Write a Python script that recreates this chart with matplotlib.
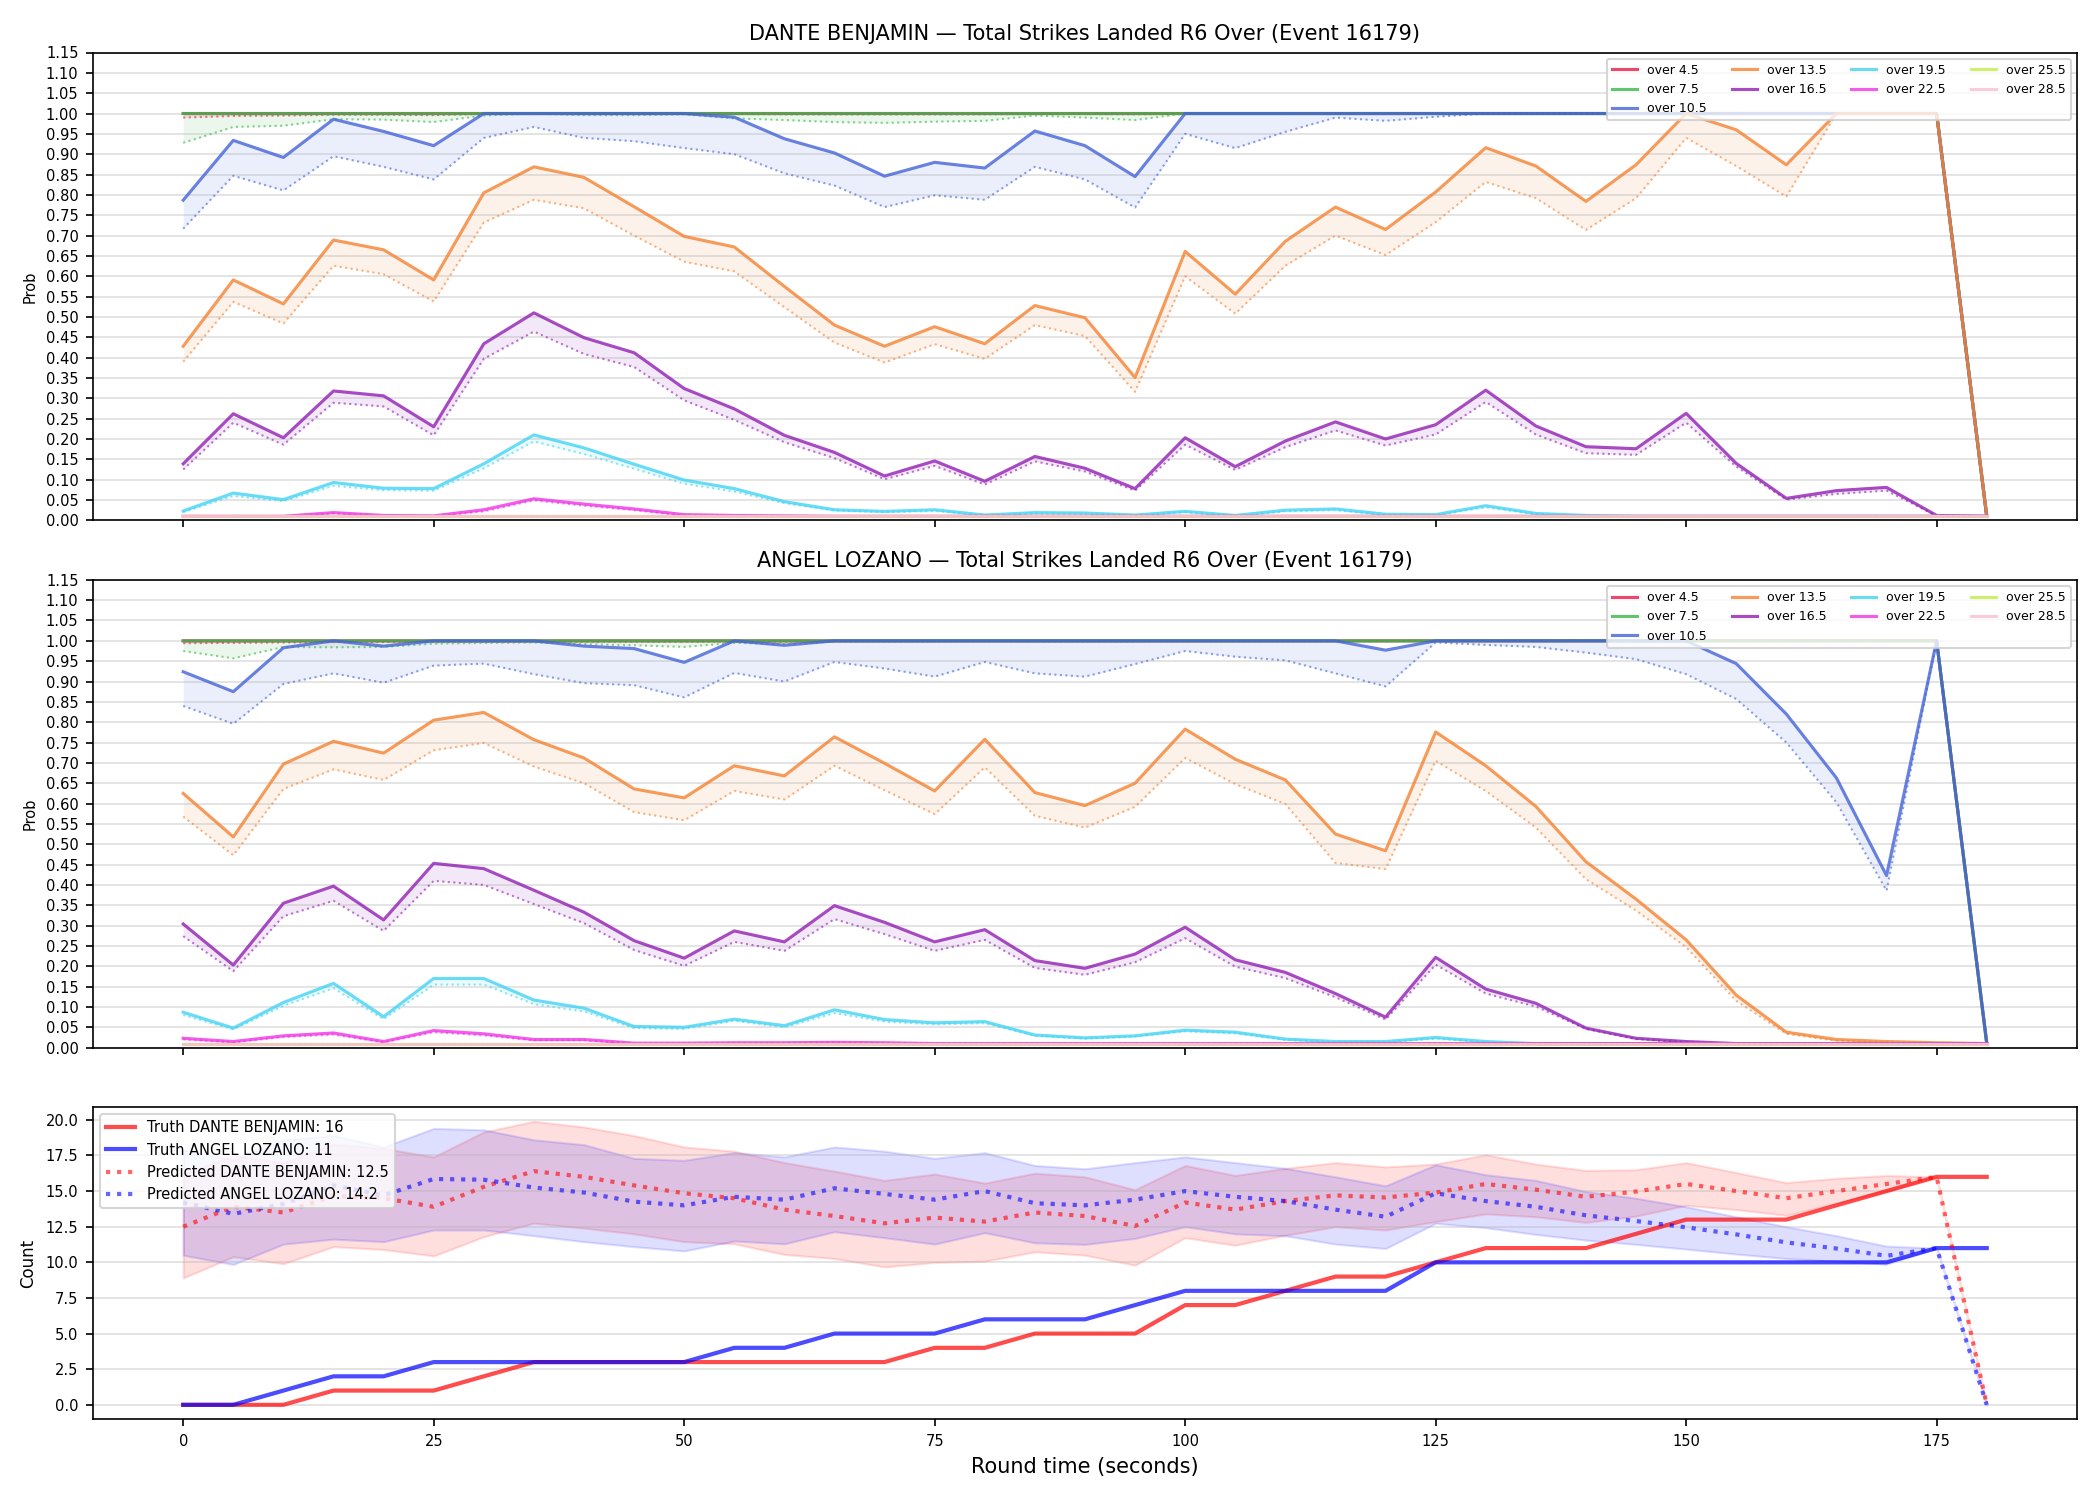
import matplotlib
matplotlib.use("Agg")
import matplotlib.pyplot as plt
import numpy as np

times = list(range(0, 181, 5))
thresholds = ["4.5", "7.5", "10.5", "13.5", "16.5", "19.5", "22.5", "25.5", "28.5"]
colors = ["#e6194b", "#3cb44b", "#4363d8", "#f58231", "#911eb4",
          "#42d4f4", "#f032e6", "#bfef45", "#fabed4"]

ONES = [1.0] * 36 + [0.01]
FLOOR = [0.01] * 37

# ---- DANTE BENJAMIN: solid = market line, dotted = lower line ----
d45_s = ONES
d45_d = [0.990, 0.994, 0.995, 0.997, 0.997, 0.996, 0.999, 0.999, 0.999, 0.999, 0.999, 0.999,
         0.998, 0.998, 0.998, 0.998, 0.998, 0.999, 0.999, 0.998, 1.0, 1.0, 1.0, 1.0, 1.0, 1.0,
         1.0, 1.0, 1.0, 1.0, 1.0, 1.0, 1.0, 1.0, 1.0, 1.0, 0.01]
d75_s = ONES
d75_d = [0.928, 0.967, 0.970, 0.986, 0.985, 0.979, 0.995, 1.0, 0.996, 0.996, 0.998, 0.988,
         0.984, 0.979, 0.977, 0.980, 0.982, 0.995, 0.990, 0.984, 1.0, 1.0, 1.0, 1.0, 1.0, 1.0,
         1.0, 1.0, 1.0, 1.0, 1.0, 1.0, 1.0, 1.0, 1.0, 1.0, 0.01]
d105_s = [0.787, 0.934, 0.892, 0.986, 0.956, 0.921, 1.0, 1.0, 1.0, 1.0, 1.0, 0.991, 0.938,
          0.903, 0.846, 0.880, 0.866, 0.957, 0.921, 0.845, 1.0, 1.0, 1.0, 1.0, 1.0, 1.0, 1.0,
          1.0, 1.0, 1.0, 1.0, 1.0, 1.0, 1.0, 1.0, 1.0, 0.01]
d105_d = [0.717, 0.847, 0.811, 0.895, 0.869, 0.838, 0.940, 0.967, 0.940, 0.932, 0.915, 0.900,
          0.853, 0.823, 0.770, 0.799, 0.788, 0.869, 0.838, 0.769, 0.950, 0.915, 0.955, 0.990,
          0.982, 0.992, 1.0, 1.0, 1.0, 1.0, 1.0, 1.0, 1.0, 1.0, 1.0, 1.0, 0.01]
d135_s = [0.428, 0.591, 0.532, 0.689, 0.665, 0.591, 0.805, 0.869, 0.843, 0.771, 0.698, 0.672,
          0.575, 0.480, 0.428, 0.476, 0.434, 0.528, 0.498, 0.351, 0.661, 0.556, 0.686, 0.770,
          0.715, 0.807, 0.916, 0.871, 0.784, 0.874, 1.0, 0.960, 0.874, 1.0, 1.0, 1.0, 0.011]
d135_d = [0.390, 0.537, 0.484, 0.626, 0.605, 0.538, 0.732, 0.788, 0.767, 0.700, 0.636, 0.612,
          0.524, 0.437, 0.388, 0.433, 0.397, 0.480, 0.453, 0.316, 0.600, 0.508, 0.626, 0.700,
          0.652, 0.733, 0.832, 0.792, 0.714, 0.792, 0.940, 0.871, 0.796, 1.0, 1.0, 1.0, 0.01]
d165_s = [0.139, 0.262, 0.203, 0.318, 0.306, 0.230, 0.434, 0.510, 0.449, 0.412, 0.324, 0.274,
          0.209, 0.167, 0.109, 0.146, 0.096, 0.157, 0.128, 0.078, 0.203, 0.132, 0.195, 0.242,
          0.200, 0.235, 0.320, 0.232, 0.181, 0.176, 0.263, 0.140, 0.054, 0.073, 0.081, 0.012, 0.01]
d165_d = [0.125, 0.240, 0.186, 0.289, 0.280, 0.209, 0.397, 0.464, 0.409, 0.377, 0.295, 0.247,
          0.192, 0.153, 0.101, 0.134, 0.088, 0.145, 0.120, 0.073, 0.186, 0.124, 0.180, 0.221,
          0.184, 0.211, 0.291, 0.211, 0.165, 0.161, 0.240, 0.132, 0.051, 0.065, 0.073, 0.011, 0.01]
d195_s = [0.023, 0.067, 0.051, 0.093, 0.079, 0.078, 0.139, 0.210, 0.178, 0.138, 0.099, 0.078,
          0.046, 0.026, 0.022, 0.026, 0.013, 0.019, 0.018, 0.013, 0.022, 0.012, 0.025, 0.028,
          0.015, 0.014, 0.036, 0.017, 0.012, 0.01, 0.01, 0.01, 0.01, 0.01, 0.01, 0.01, 0.01]
d195_d = [0.020, 0.060, 0.047, 0.085, 0.074, 0.073, 0.128, 0.194, 0.163, 0.127, 0.090, 0.071,
          0.042, 0.024, 0.020, 0.023, 0.012, 0.017, 0.016, 0.012, 0.020, 0.011, 0.022, 0.025,
          0.013, 0.013, 0.032, 0.015, 0.011, 0.01, 0.01, 0.01, 0.01, 0.01, 0.01, 0.01, 0.01]
d225_s = [0.01, 0.01, 0.01, 0.019, 0.012, 0.011, 0.026, 0.053, 0.040, 0.028, 0.014, 0.012,
          0.011, 0.01, 0.01, 0.01, 0.01, 0.01, 0.01, 0.01, 0.01, 0.01, 0.01, 0.01, 0.01, 0.01,
          0.01, 0.01, 0.01, 0.01, 0.01, 0.01, 0.01, 0.01, 0.01, 0.01, 0.01]
d225_d = [0.01, 0.01, 0.01, 0.017, 0.011, 0.01, 0.022, 0.049, 0.036, 0.025, 0.012, 0.011,
          0.01, 0.01, 0.01, 0.01, 0.01, 0.01, 0.01, 0.01, 0.01, 0.01, 0.01, 0.01, 0.01, 0.01,
          0.01, 0.01, 0.01, 0.01, 0.01, 0.01, 0.01, 0.01, 0.01, 0.01, 0.01]

# ---- ANGEL LOZANO ----
a45_s = ONES
a45_d = [0.994, 0.995, 0.996, 0.997, 0.997, 0.998, 0.998, 0.998, 0.998, 0.998, 0.998, 0.998,
         0.998, 0.999, 0.999, 0.999, 0.999, 0.999, 0.999, 0.999, 0.999, 0.999, 0.999, 0.999,
         0.999, 1.0, 1.0, 1.0, 1.0, 1.0, 1.0, 1.0, 1.0, 1.0, 1.0, 1.0, 0.01]
a75_s = ONES
a75_d = [0.975, 0.957, 0.985, 0.984, 0.985, 0.993, 0.995, 0.996, 0.992, 0.989, 0.985, 0.995,
         0.992, 0.998, 0.998, 0.998, 0.999, 0.998, 0.998, 0.998, 0.999, 0.999, 0.999, 0.999,
         0.998, 1.0, 1.0, 1.0, 1.0, 1.0, 1.0, 1.0, 1.0, 1.0, 1.0, 1.0, 0.01]
a105_s = [0.924, 0.875, 0.983, 1.0, 0.987, 1.0, 1.0, 1.0, 0.987, 0.981, 0.947, 1.0, 0.989,
          1.0, 1.0, 1.0, 1.0, 1.0, 1.0, 1.0, 1.0, 1.0, 1.0, 1.0, 0.977, 1.0, 1.0, 1.0, 1.0,
          1.0, 1.0, 0.944, 0.820, 0.663, 0.423, 1.0, 0.013]
a105_d = [0.840, 0.796, 0.894, 0.920, 0.897, 0.939, 0.944, 0.918, 0.896, 0.891, 0.861, 0.921,
          0.900, 0.948, 0.932, 0.912, 0.948, 0.920, 0.912, 0.943, 0.975, 0.961, 0.952, 0.920,
          0.888, 0.996, 0.990, 0.985, 0.971, 0.955, 0.918, 0.857, 0.750, 0.603, 0.386, 1.0, 0.01]
a135_s = [0.625, 0.518, 0.697, 0.753, 0.724, 0.805, 0.824, 0.757, 0.712, 0.636, 0.614, 0.693,
          0.668, 0.764, 0.699, 0.631, 0.758, 0.627, 0.595, 0.650, 0.783, 0.709, 0.658, 0.525,
          0.484, 0.776, 0.693, 0.593, 0.457, 0.365, 0.265, 0.129, 0.038, 0.020, 0.015, 0.012, 0.01]
a135_d = [0.568, 0.473, 0.636, 0.684, 0.658, 0.731, 0.749, 0.691, 0.650, 0.579, 0.559, 0.631,
          0.610, 0.693, 0.633, 0.574, 0.689, 0.570, 0.541, 0.592, 0.712, 0.648, 0.599, 0.454,
          0.439, 0.705, 0.631, 0.541, 0.414, 0.337, 0.247, 0.115, 0.034, 0.017, 0.013, 0.011, 0.01]
a165_s = [0.304, 0.203, 0.355, 0.397, 0.314, 0.453, 0.440, 0.387, 0.333, 0.263, 0.220, 0.287,
          0.260, 0.349, 0.308, 0.260, 0.290, 0.214, 0.195, 0.230, 0.296, 0.216, 0.185, 0.133,
          0.075, 0.222, 0.144, 0.109, 0.048, 0.023, 0.015, 0.01, 0.01, 0.01, 0.01, 0.01, 0.01]
a165_d = [0.274, 0.188, 0.323, 0.361, 0.287, 0.410, 0.400, 0.353, 0.306, 0.240, 0.201, 0.260,
          0.238, 0.316, 0.279, 0.238, 0.265, 0.196, 0.179, 0.210, 0.269, 0.199, 0.171, 0.124,
          0.069, 0.204, 0.133, 0.101, 0.046, 0.021, 0.013, 0.01, 0.01, 0.01, 0.01, 0.01, 0.01]
a195_s = [0.087, 0.048, 0.111, 0.158, 0.076, 0.170, 0.170, 0.117, 0.097, 0.052, 0.050, 0.070,
          0.054, 0.093, 0.069, 0.061, 0.064, 0.031, 0.024, 0.029, 0.043, 0.038, 0.021, 0.015,
          0.015, 0.025, 0.015, 0.01, 0.01, 0.01, 0.01, 0.01, 0.01, 0.01, 0.01, 0.01, 0.01]
a195_d = [0.080, 0.045, 0.103, 0.146, 0.070, 0.155, 0.155, 0.107, 0.089, 0.048, 0.046, 0.066,
          0.050, 0.085, 0.064, 0.057, 0.060, 0.029, 0.022, 0.027, 0.040, 0.035, 0.019, 0.013,
          0.013, 0.022, 0.013, 0.01, 0.01, 0.01, 0.01, 0.01, 0.01, 0.01, 0.01, 0.01, 0.01]
a225_s = [0.023, 0.015, 0.029, 0.036, 0.015, 0.042, 0.034, 0.020, 0.020, 0.011, 0.011, 0.012,
          0.012, 0.013, 0.012, 0.01, 0.01, 0.01, 0.01, 0.01, 0.01, 0.01, 0.01, 0.01, 0.01, 0.01,
          0.01, 0.01, 0.01, 0.01, 0.01, 0.01, 0.01, 0.01, 0.01, 0.01, 0.01]
a225_d = [0.020, 0.013, 0.026, 0.032, 0.013, 0.038, 0.030, 0.018, 0.018, 0.01, 0.01, 0.011,
          0.011, 0.012, 0.011, 0.01, 0.01, 0.01, 0.01, 0.01, 0.01, 0.01, 0.01, 0.01, 0.01, 0.01,
          0.01, 0.01, 0.01, 0.01, 0.01, 0.01, 0.01, 0.01, 0.01, 0.01, 0.01]

dante_lines = [(d45_s, d45_d), (d75_s, d75_d), (d105_s, d105_d), (d135_s, d135_d),
               (d165_s, d165_d), (d195_s, d195_d), (d225_s, d225_d), (FLOOR, FLOOR), (FLOOR, FLOOR)]
angel_lines = [(a45_s, a45_d), (a75_s, a75_d), (a105_s, a105_d), (a135_s, a135_d),
               (a165_s, a165_d), (a195_s, a195_d), (a225_s, a225_d), (FLOOR, FLOOR), (FLOOR, FLOOR)]

# ---- counts ----
truth_dante = [0, 0, 0, 1, 1, 1, 2, 3, 3, 3, 3, 3, 3, 3, 3, 4, 4, 5, 5, 5, 7, 7, 8, 9, 9,
               10, 11, 11, 11, 12, 13, 13, 13, 14, 15, 16, 16]
truth_angel = [0, 0, 1, 2, 2, 3, 3, 3, 3, 3, 3, 4, 4, 5, 5, 5, 6, 6, 6, 7, 8, 8, 8, 8, 8,
               10, 10, 10, 10, 10, 10, 10, 10, 10, 10, 11, 11]
pred_dante = [12.5, 13.9, 13.5, 14.67, 14.5, 13.9, 15.3, 16.4, 16.0, 15.4, 14.85, 14.5, 13.7,
              13.25, 12.74, 13.14, 12.86, 13.5, 13.25, 12.55, 14.2, 13.7, 14.3, 14.7, 14.55,
              14.9, 15.5, 15.1, 14.6, 14.97, 15.5, 15.0, 14.5, 15.0, 15.5, 16.0, 0.0]
pred_dante_lo = [8.9, 10.4, 9.9, 11.1, 10.9, 10.45, 11.8, 12.75, 12.4, 12.0, 11.45, 11.3, 10.55,
                 10.27, 9.68, 9.99, 10.08, 10.74, 10.5, 9.8, 11.73, 11.2, 11.9, 12.5, 12.27,
                 12.86, 13.4, 13.2, 12.8, 13.25, 14.0, 13.7, 13.3, 14.15, 15.0, 16.0, 0.0]
pred_dante_hi = [16.2, 17.5, 17.0, 18.3, 18.0, 17.4, 19.15, 19.9, 19.5, 18.9, 18.1, 17.8, 17.0,
                 16.4, 15.75, 16.2, 15.56, 16.26, 16.0, 15.1, 16.8, 16.1, 16.6, 17.0, 16.7,
                 16.9, 17.55, 16.9, 16.45, 16.5, 17.0, 16.3, 15.6, 15.9, 16.1, 16.0, 0.0]
pred_angel = [14.2, 13.4, 14.1, 15.4, 14.7, 15.85, 15.8, 15.25, 14.9, 14.26, 14.0, 14.6, 14.4,
              15.2, 14.8, 14.4, 15.0, 14.15, 14.0, 14.4, 15.0, 14.6, 14.3, 13.7, 13.2, 14.85,
              14.3, 13.9, 13.3, 12.9, 12.46, 11.96, 11.4, 10.97, 10.46, 11.0, 0.0]
pred_angel_lo = [10.5, 9.85, 11.28, 11.63, 11.45, 12.27, 12.27, 11.87, 11.45, 11.1, 10.8, 11.5,
                 11.3, 12.15, 11.73, 11.28, 12.08, 11.37, 11.26, 11.68, 12.5, 12.0, 11.87, 11.28,
                 10.97, 12.74, 12.43, 11.96, 11.56, 11.26, 10.93, 10.58, 10.27, 10.08, 9.87,
                 11.0, 0.0]
pred_angel_hi = [17.9, 17.2, 18.6, 18.9, 18.1, 19.4, 19.3, 18.6, 18.26, 17.3, 17.16, 17.7, 17.4,
                 18.1, 17.8, 17.3, 17.7, 16.8, 16.57, 17.0, 17.4, 17.0, 16.6, 16.0, 15.37, 16.85,
                 16.15, 15.75, 14.97, 14.5, 13.9, 13.2, 12.5, 11.87, 11.14, 11.0, 0.0]

fig, axes = plt.subplots(3, 1, figsize=(14, 10), dpi=150, sharex=True,
                         gridspec_kw={"height_ratios": [3, 3, 2]})
fig.subplots_adjust(left=0.0443, right=0.989, top=0.965, bottom=0.054, hspace=0.143)


def prob_panel(ax, name, lines):
    for th, col, (solid, dotted) in zip(thresholds, colors, lines):
        ax.plot(times, solid, color=col, lw=1.5, alpha=0.8, label=f"over {th}")
        ax.plot(times, dotted, color=col, lw=1.0, ls=":", alpha=0.6)
        ax.fill_between(times, dotted, solid, color=col, alpha=0.1, lw=0)
    ax.set_ylim(0, 1.15)
    ax.set_yticks(np.arange(0, 1.151, 0.05))
    ax.set_yticklabels([f"{v:.2f}" for v in np.arange(0, 1.151, 0.05)])
    ax.set_ylabel("Prob", fontsize=7)
    ax.set_title(f"{name} — Total Strikes Landed R6 Over (Event 16179)", fontsize=10)
    ax.grid(axis="y", alpha=0.4)
    ax.tick_params(labelsize=7)
    ax.legend(loc="upper right", ncol=4, fontsize=6)


prob_panel(axes[0], "DANTE BENJAMIN", dante_lines)
prob_panel(axes[1], "ANGEL LOZANO", angel_lines)

ax = axes[2]
ax.plot(times, truth_dante, color="red", lw=2, alpha=0.7, label="Truth DANTE BENJAMIN: 16")
ax.plot(times, truth_angel, color="blue", lw=2, alpha=0.7, label="Truth ANGEL LOZANO: 11")
ax.plot(times, pred_dante, color="red", lw=2, ls=":", alpha=0.6,
        label="Predicted DANTE BENJAMIN: 12.5")
ax.fill_between(times, pred_dante_lo, pred_dante_hi, color="red", alpha=0.13)
ax.plot(times, pred_angel, color="blue", lw=2, ls=":", alpha=0.6,
        label="Predicted ANGEL LOZANO: 14.2")
ax.fill_between(times, pred_angel_lo, pred_angel_hi, color="blue", alpha=0.13)
ax.set_ylabel("Count", fontsize=8)
ax.set_xlabel("Round time (seconds)", fontsize=10)
ax.grid(axis="y", alpha=0.4)
ax.tick_params(labelsize=7)
ax.legend(loc="upper left", fontsize=7)

fig.savefig("out.png", dpi=150)
